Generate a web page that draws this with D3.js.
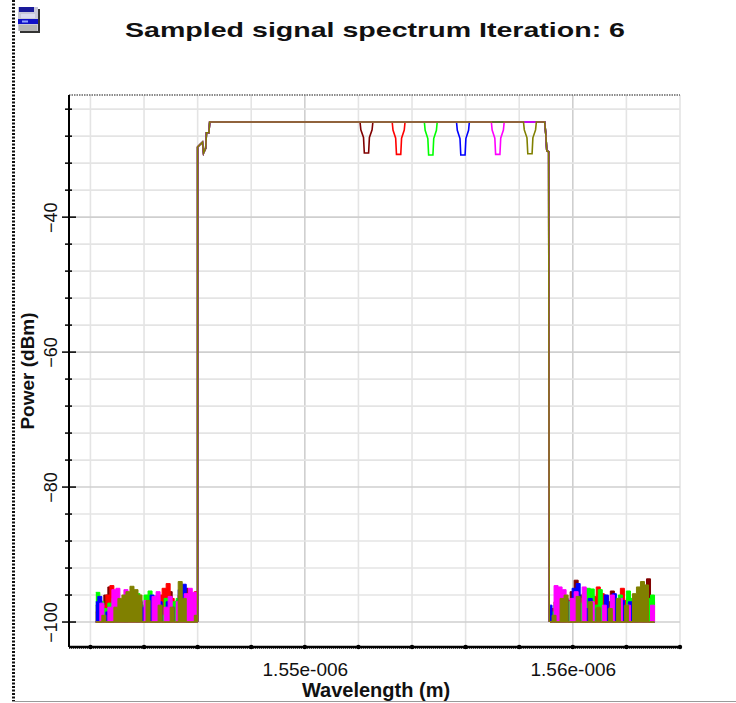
<!DOCTYPE html>
<html>
<head>
<meta charset="utf-8">
<script src="https://cdn.jsdelivr.net/npm/d3@7"></script>
<style>
  body { margin: 0; background: #fff; }
  svg { display: block; font-family: "Liberation Sans", Arial, sans-serif; }
</style>
</head>
<body>
<svg id="chart" width="736" height="703"></svg>
<script>
(function () {

    'use strict';

    // ---- data (wavelength in nm, power in dBm) ----
    var traceColors = ["#800000", "#ff0000", "#00ff00", "#0000ff", "#ff00ff", "#808000"];
    var notchCenters = [1552.3, 1553.5, 1554.7, 1555.9, 1557.2, 1558.4];
    var notchFloor = [-30.5, -30.7, -30.8, -30.8, -30.7, -30.6];
    var plateau = -25.9;
    var notchDx = [-0.24, -0.21, -0.11, -0.08, 0.08, 0.11, 0.21, 0.24];
    var notchShape = [0, 0.25, 0.5, 1, 1, 0.5, 0.25, 0];

    var leftEdge = [[1546.00, -100], [1546.00, -29.6], [1546.10, -29.2], [1546.18, -28.9], [1546.22, -30.5],
                    [1546.30, -29.8], [1546.33, -27.5], [1546.42, -27.5], [1546.45, -25.9]];
    var rightEdge = [[1558.95, -25.9], [1558.99, -27.6], [1559.03, -30.2], [1559.10, -30.3], [1559.12, -100]];

    var noiseWlLeft = [1542.2, 1542.35, 1542.5, 1542.65, 1542.8, 1542.95, 1543.1, 1543.25, 1543.4, 1543.55,
                       1543.7, 1543.85, 1544.0, 1544.15, 1544.3, 1544.45, 1544.6, 1544.75, 1544.9, 1545.05,
                       1545.2, 1545.35, 1545.5, 1545.65, 1545.8, 1545.95, 1546.0];
    var noiseWlRight = [1559.15, 1559.3, 1559.45, 1559.6, 1559.75, 1559.9, 1560.05, 1560.2, 1560.35, 1560.5,
                        1560.65, 1560.8, 1560.95, 1561.1, 1561.25, 1561.4, 1561.55, 1561.7, 1561.85, 1562.0,
                        1562.15, 1562.3, 1562.45, 1562.6, 1562.75, 1562.9, 1563.05];

    var noiseLeft = [
        [-97.5,-98.0,-96.0,-94.8,-95.5,-97.0,-99.0,-96.5,-98.5,-97.0,-96.2,-98.0,-97.5,-99.0,-97.8,-96.0,-98.5,-97.0,-95.5,-98.0,-96.8,-97.5,-95.0,-97.0,-98.2,-96.5,-100],
        [-98.5,-96.8,-97.5,-96.0,-94.6,-96.5,-98.0,-97.5,-99.0,-96.8,-98.0,-97.0,-98.8,-96.5,-97.2,-98.5,-96.0,-95.0,-94.3,-96.5,-98.0,-96.0,-97.5,-95.8,-96.2,-95.5,-100],
        [-95.6,-97.0,-98.0,-97.2,-96.5,-98.0,-96.8,-98.5,-97.0,-98.2,-95.8,-97.5,-96.0,-95.4,-98.0,-97.0,-99.0,-96.5,-98.0,-97.0,-96.5,-98.2,-97.0,-96.2,-98.5,-97.8,-100],
        [-97.0,-96.2,-100,-98.5,-100,-95.6,-97.5,-100,-98.0,-97.2,-100,-96.8,-97.8,-100,-96.0,-100,-97.0,-100,-97.0,-97.8,-100,-95.2,-94.4,-100,-97.5,-100,-100],
        [-100,-97.2,-100,-97.8,-95.2,-95.0,-100,-95.2,-100,-100,-97.8,-100,-96.8,-100,-96.2,-95.5,-100,-97.8,-96.2,-100,-97.0,-100,-95.8,-95.0,-95.6,-100,-100],
        [-100,-100,-99.0,-100,-100,-97.8,-96.5,-96.0,-95.5,-94.7,-95.2,-96.0,-100,-96.8,-100,-100,-97.5,-100,-100,-97.8,-100,-94.0,-96.5,-100,-100,-99.0,-100]
    ];
    var noiseRight = [
        [-98.0,-97.0,-98.5,-97.2,-96.8,-95.5,-93.8,-96.0,-98.0,-97.5,-98.2,-96.8,-97.5,-96.0,-97.0,-95.4,-97.8,-98.5,-97.0,-96.5,-97.5,-96.0,-95.0,-96.0,-93.6,-97.0,-100],
        [-99.0,-98.0,-97.0,-96.5,-97.8,-96.8,-97.0,-98.0,-96.5,-97.0,-98.5,-96.2,-94.8,-95.8,-96.2,-97.8,-96.5,-97.0,-95.0,-96.8,-98.0,-97.0,-96.0,-95.5,-97.0,-98.0,-100],
        [-98.5,-97.5,-98.0,-98.5,-97.0,-98.0,-96.5,-97.2,-95.8,-95.0,-95.1,-97.5,-95.2,-97.5,-98.0,-96.5,-97.5,-96.0,-97.8,-95.4,-96.5,-98.0,-97.5,-97.0,-96.5,-96.0,-100],
        [-97.5,-100,-98.0,-100,-96.5,-100,-95.0,-94.3,-100,-98.0,-96.5,-100,-98.0,-100,-96.0,-100,-95.8,-100,-96.8,-100,-97.0,-100,-97.5,-100,-97.0,-100,-100],
        [-100,-94.6,-94.8,-95.2,-100,-96.5,-95.5,-100,-94.8,-100,-97.0,-100,-100,-97.5,-100,-96.0,-100,-96.5,-100,-97.5,-100,-98.0,-100,-96.5,-100,-97.5,-100],
        [-100,-99.0,-100,-96.5,-96.0,-100,-100,-96.2,-100,-100,-97.0,-100,-97.8,-100,-100,-98.0,-100,-96.5,-100,-97.5,-100,-95.8,-94.8,-94.0,-94.5,-100,-100]
    ];

    var xMajorTicks = [1550, 1560];
    var yMajorTicks = [-40, -60, -80, -100];

    // ---- layout ----
    var svg = d3.select("#chart");
    var margin = { top: 95, right: 56, bottom: 56, left: 69 };
    var width = 736 - margin.left - margin.right;
    var height = 703 - margin.top - margin.bottom;

    var x = d3.scaleLinear().domain([1541.2, 1564.0]).range([0, width]);
    var y = d3.scaleLinear().domain([-103.7, -21.9]).range([height, 0]);

    var xGrid = d3.range(1542, 1565, 2);
    var yGrid = d3.range(-100, -21, 4);

    // window chrome: jagged left border, bottom rule, icon
    svg.append("line").attr("x1", 13.5).attr("x2", 13.5).attr("y1", 0).attr("y2", 703)
        .attr("stroke", "#111").attr("stroke-width", 3).attr("stroke-dasharray", "2,1.5");
    svg.append("line").attr("x1", 12).attr("x2", 736).attr("y1", 701.5).attr("y2", 701.5)
        .attr("stroke", "#9a9a9a").attr("stroke-width", 1);
    var icon = svg.append("g").attr("transform", "translate(18,7)");
    icon.append("rect").attr("x", 2).attr("y", 2).attr("width", 20).attr("height", 24).attr("fill", "#333");
    icon.append("rect").attr("x", 0).attr("y", 0).attr("width", 20).attr("height", 24).attr("fill", "#c8c8d8");
    icon.append("rect").attr("x", 1).attr("y", 0).attr("width", 15).attr("height", 5).attr("fill", "#1a1a9a");
    icon.append("rect").attr("x", 3).attr("y", 7).attr("width", 14).attr("height", 4).attr("fill", "#dcdcf0");
    icon.append("rect").attr("x", 0).attr("y", 12).attr("width", 20).attr("height", 5).attr("fill", "#1010c8");
    icon.append("rect").attr("x", 4).attr("y", 13.5).attr("width", 6).attr("height", 2).attr("fill", "#8fa0ff");
    icon.append("rect").attr("x", 1).attr("y", 18).attr("width", 18).attr("height", 6).attr("fill", "#b4b4b4");

    // title
    svg.append("text")
        .attr("x", 125).attr("y", 37)
        .attr("font-size", 21).attr("font-weight", "bold")
        .attr("textLength", 500).attr("lengthAdjust", "spacingAndGlyphs")
        .attr("fill", "#111")
        .text("Sampled signal spectrum Iteration: 6");

    var g = svg.append("g").attr("transform", "translate(" + margin.left + "," + margin.top + ")");

    // grid
    g.append("g").selectAll("line").data(xGrid).enter().append("line")
        .attr("x1", function (d) { return x(d); }).attr("x2", function (d) { return x(d); })
        .attr("y1", 0).attr("y2", height)
        .attr("stroke", function (d) { return xMajorTicks.indexOf(d) >= 0 ? "#cfcfcf" : "#e4e4e4"; })
        .attr("stroke-width", 1.6);
    g.append("g").selectAll("line").data(yGrid).enter().append("line")
        .attr("x1", 0).attr("x2", width)
        .attr("y1", function (d) { return y(d); }).attr("y2", function (d) { return y(d); })
        .attr("stroke", function (d) { return yMajorTicks.indexOf(d) >= 0 ? "#cfcfcf" : "#e4e4e4"; })
        .attr("stroke-width", 1.6);

    // top dotted border
    g.append("line").attr("x1", 0).attr("x2", width).attr("y1", 0).attr("y2", 0)
        .attr("stroke", "#666").attr("stroke-width", 1.5).attr("stroke-dasharray", "1.5,1");

    // traces
    g.append("clipPath").attr("id", "plotClip").append("rect")
        .attr("width", width).attr("height", height);
    var plot = g.append("g").attr("clip-path", "url(#plotClip)");

    var lineSig = d3.line().x(function (d) { return x(d[0]); }).y(function (d) { return y(d[1]); });

    traceColors.forEach(function (color, i) {
        var curve = i % 2 === 0 ? d3.curveStepAfter : d3.curveStep;
        var area = d3.area().curve(curve)
            .x(function (d) { return x(d[0]); })
            .y0(y(-100))
            .y1(function (d) { return y(d[1]); });
        var noiseLine = d3.line().curve(curve)
            .x(function (d) { return x(d[0]); })
            .y(function (d) { return y(d[1]); });

        [[noiseWlLeft, noiseLeft[i]], [noiseWlRight, noiseRight[i]]].forEach(function (pair) {
            var pts = pair[0].map(function (w, k) { return [w, pair[1][k]]; });
            plot.append("path").datum(pts).attr("d", area).attr("fill", color);
            plot.append("path").datum(pts).attr("d", noiseLine)
                .attr("fill", "none").attr("stroke", color).attr("stroke-width", 1);
            plot.append("line")
                .attr("x1", x(pair[0][0])).attr("x2", x(pair[0][pair[0].length - 1]))
                .attr("y1", y(-100)).attr("y2", y(-100))
                .attr("stroke", color).attr("stroke-width", 1.5);
        });

        var notch = notchDx.map(function (dx, k) {
            return [notchCenters[i] + dx, plateau + notchShape[k] * (notchFloor[i] - plateau)];
        });
        var sig = leftEdge.concat(notch, rightEdge);
        plot.append("path").datum(sig).attr("d", lineSig)
            .attr("fill", "none").attr("stroke", color).attr("stroke-width", 1.6);
    });

    // left axis
    g.append("line").attr("x1", 0).attr("x2", 0).attr("y1", 0).attr("y2", height)
        .attr("stroke", "#000").attr("stroke-width", 2);
    g.append("g").selectAll("line").data(yGrid).enter().append("line")
        .attr("x1", function (d) { return yMajorTicks.indexOf(d) >= 0 ? -7 : -4; })
        .attr("x2", function (d) { return yMajorTicks.indexOf(d) >= 0 ? 7 : 3; })
        .attr("y1", function (d) { return y(d); }).attr("y2", function (d) { return y(d); })
        .attr("stroke", "#000").attr("stroke-width", 1.5);

    var yAxis = g.append("g")
        .call(d3.axisLeft(y).tickValues(yMajorTicks).tickSize(0).tickFormat(d3.format("d")));
    yAxis.select(".domain").remove();
    yAxis.selectAll("text")
        .attr("x", null).attr("dy", null)
        .attr("transform", "translate(-12,0) rotate(-90)")
        .attr("text-anchor", "middle")
        .attr("font-size", 18).attr("font-family", "Liberation Sans, Arial, sans-serif")
        .attr("fill", "#111");

    // bottom axis
    g.append("line").attr("x1", 0).attr("x2", width + 1).attr("y1", height).attr("y2", height)
        .attr("stroke", "#000").attr("stroke-width", 2.5);
    g.append("line").attr("x1", 0).attr("x2", width + 1).attr("y1", height + 1.5).attr("y2", height + 1.5)
        .attr("stroke", "#444").attr("stroke-width", 1).attr("stroke-dasharray", "1,1");
    g.append("g").selectAll("circle").data(xGrid).enter().append("circle")
        .attr("cx", function (d) { return x(d); }).attr("cy", height)
        .attr("r", 2.2).attr("fill", "#000");

    function sciFormat(nm) {
        var p = d3.format(".2e")(nm * 1e-9).split("e");
        var e = +p[1];
        return p[0] + "e" + (e < 0 ? "-" : "+") + String(Math.abs(e)).padStart(3, "0");
    }
    var xAxis = g.append("g").attr("transform", "translate(0," + height + ")")
        .call(d3.axisBottom(x).tickValues(xMajorTicks).tickSize(0).tickFormat(sciFormat));
    xAxis.select(".domain").remove();
    xAxis.selectAll("text")
        .attr("y", 29).attr("dy", null)
        .attr("font-size", 19).attr("font-family", "Liberation Sans, Arial, sans-serif")
        .attr("fill", "#111");

    // axis titles
    svg.append("text")
        .attr("x", 376).attr("y", 697)
        .attr("text-anchor", "middle")
        .attr("font-size", 20).attr("font-weight", "bold").attr("fill", "#111")
        .text("Wavelength (m)");
    svg.append("text")
        .attr("transform", "translate(34," + (margin.top + height / 2) + ") rotate(-90)")
        .attr("text-anchor", "middle")
        .attr("font-size", 19).attr("font-weight", "bold").attr("fill", "#111")
        .text("Power (dBm)");
})();
</script>
</body>
</html>
